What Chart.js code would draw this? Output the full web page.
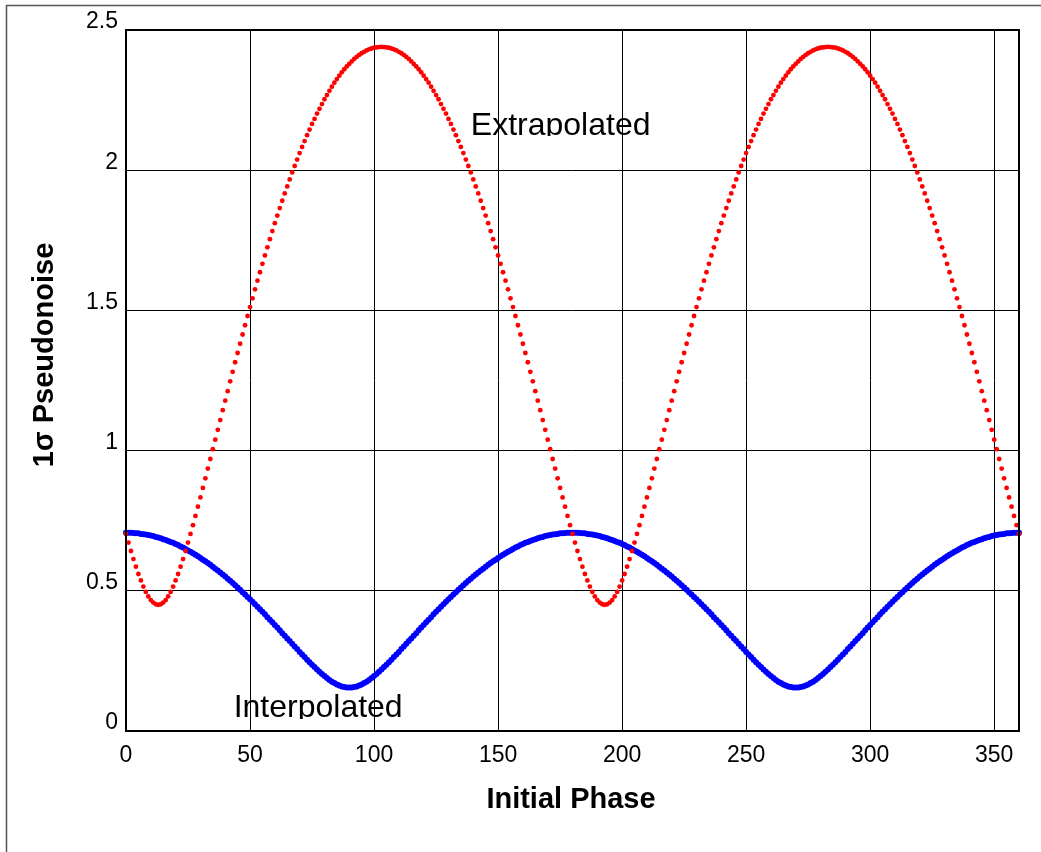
<!DOCTYPE html>
<html><head><meta charset="utf-8">
<script src="https://cdn.jsdelivr.net/npm/chart.js@4/dist/chart.umd.min.js"></script>
<style>html,body{margin:0;padding:0;background:#fff}#wrap{position:relative;width:1041px;height:852px}</style>
</head><body><div id="wrap"><canvas id="c" width="1041" height="852"></canvas></div>
<script>
// Initial phase (degrees), one sample per degree
const phase = [
0,1,2,3,4,5,6,7,8,9,10,11,12,13,14,15,16,17,18,19,20,21,22,23,24,25,26,27,28,29,
30,31,32,33,34,35,36,37,38,39,40,41,42,43,44,45,46,47,48,49,50,51,52,53,54,55,56,57,58,59,
60,61,62,63,64,65,66,67,68,69,70,71,72,73,74,75,76,77,78,79,80,81,82,83,84,85,86,87,88,89,
90,91,92,93,94,95,96,97,98,99,100,101,102,103,104,105,106,107,108,109,110,111,112,113,114,115,116,117,118,119,
120,121,122,123,124,125,126,127,128,129,130,131,132,133,134,135,136,137,138,139,140,141,142,143,144,145,146,147,148,149,
150,151,152,153,154,155,156,157,158,159,160,161,162,163,164,165,166,167,168,169,170,171,172,173,174,175,176,177,178,179,
180,181,182,183,184,185,186,187,188,189,190,191,192,193,194,195,196,197,198,199,200,201,202,203,204,205,206,207,208,209,
210,211,212,213,214,215,216,217,218,219,220,221,222,223,224,225,226,227,228,229,230,231,232,233,234,235,236,237,238,239,
240,241,242,243,244,245,246,247,248,249,250,251,252,253,254,255,256,257,258,259,260,261,262,263,264,265,266,267,268,269,
270,271,272,273,274,275,276,277,278,279,280,281,282,283,284,285,286,287,288,289,290,291,292,293,294,295,296,297,298,299,
300,301,302,303,304,305,306,307,308,309,310,311,312,313,314,315,316,317,318,319,320,321,322,323,324,325,326,327,328,329,
330,331,332,333,334,335,336,337,338,339,340,341,342,343,344,345,346,347,348,349,350,351,352,353,354,355,356,357,358,359,
360];

// Extrapolated (red dots)
const extrapolated = [
0.703,0.672,0.642,0.613,0.586,0.560,0.537,0.515,0.496,0.480,0.467,0.458,0.452,0.450,
0.452,0.458,0.467,0.480,0.496,0.515,0.537,0.560,0.586,0.613,
0.642,0.672,0.703,0.734,0.767,0.800,0.833,0.867,0.901,0.936,
0.970,1.005,1.039,1.074,1.109,1.144,1.178,1.212,1.247,1.281,
1.315,1.348,1.381,1.414,1.447,1.480,1.512,1.543,1.575,1.606,
1.636,1.666,1.696,1.725,1.754,1.783,1.811,1.838,1.865,1.891,
1.917,1.942,1.967,1.992,2.015,2.038,2.061,2.083,2.104,2.125,
2.145,2.165,2.183,2.202,2.219,2.236,2.253,2.268,2.283,2.298,
2.312,2.325,2.337,2.349,2.360,2.370,2.379,2.388,2.397,2.404,
2.411,2.417,2.422,2.427,2.431,2.434,2.437,2.438,2.439,2.440,
2.439,2.438,2.437,2.434,2.431,2.427,2.422,2.417,2.411,
2.404,2.397,2.388,2.379,2.370,2.360,2.349,2.337,2.325,2.312,
2.298,2.283,2.268,2.253,2.236,2.219,2.202,2.183,2.165,2.145,
2.125,2.104,2.083,2.061,2.038,2.015,1.992,1.967,1.942,1.917,
1.891,1.865,1.838,1.811,1.783,1.754,1.725,1.696,1.666,1.636,
1.606,1.575,1.543,1.512,1.480,1.447,1.414,1.381,1.348,1.315,
1.281,1.247,1.212,1.178,1.144,1.109,1.074,1.039,1.005,0.970,
0.936,0.901,0.867,0.833,0.800,0.767,0.734,0.703,0.672,0.642,
0.613,0.586,0.560,0.537,0.515,0.496,0.480,0.467,0.458,0.452,
0.450,
0.452,0.458,0.467,0.480,0.496,0.515,0.537,0.560,0.586,0.613,
0.642,0.672,0.703,0.734,0.767,0.800,0.833,0.867,0.901,0.936,
0.970,1.005,1.039,1.074,1.109,1.144,1.178,1.212,1.247,1.281,
1.315,1.348,1.381,1.414,1.447,1.480,1.512,1.543,1.575,1.606,
1.636,1.666,1.696,1.725,1.754,1.783,1.811,1.838,1.865,1.891,
1.917,1.942,1.967,1.992,2.015,2.038,2.061,2.083,2.104,2.125,
2.145,2.165,2.183,2.202,2.219,2.236,2.253,2.268,2.283,2.298,
2.312,2.325,2.337,2.349,2.360,2.370,2.379,2.388,2.397,2.404,
2.411,2.417,2.422,2.427,2.431,2.434,2.437,2.438,2.439,2.440,
2.439,2.438,2.437,2.434,2.431,2.427,2.422,2.417,2.411,
2.404,2.397,2.388,2.379,2.370,2.360,2.349,2.337,2.325,2.312,
2.298,2.283,2.268,2.253,2.236,2.219,2.202,2.183,2.165,2.145,
2.125,2.104,2.083,2.061,2.038,2.015,1.992,1.967,1.942,1.917,
1.891,1.865,1.838,1.811,1.783,1.754,1.725,1.696,1.666,1.636,
1.606,1.575,1.543,1.512,1.480,1.447,1.414,1.381,1.348,1.315,
1.281,1.247,1.212,1.178,1.144,1.109,1.074,1.039,1.005,0.970,
0.936,0.901,0.867,0.833,0.800,0.767,0.734,0.703];

// Interpolated (blue)
const interpolated = [
0.707,0.707,0.707,0.706,0.705,0.705,0.703,0.702,0.701,0.699,
0.697,0.695,0.692,0.690,0.687,0.684,0.681,0.678,0.674,0.671,
0.667,0.663,0.658,0.654,0.649,0.644,0.639,0.634,0.629,0.623,
0.617,0.611,0.605,0.599,0.593,0.586,0.579,0.572,0.565,0.558,
0.551,0.543,0.536,0.528,0.520,0.512,0.504,0.495,0.487,0.478,
0.470,0.461,0.452,0.443,0.434,0.425,0.416,0.406,0.397,0.388,
0.378,0.369,0.359,0.349,0.340,0.330,0.321,0.311,0.301,0.292,
0.282,0.273,0.264,0.254,0.245,0.236,0.228,0.219,0.211,0.203,
0.196,0.189,0.182,0.176,0.171,0.166,0.162,0.159,0.157,0.155,
0.155,
0.155,0.157,0.159,0.162,0.166,0.171,0.176,0.182,0.189,0.196,
0.203,0.211,0.219,0.228,0.236,0.245,0.254,0.264,0.273,0.282,
0.292,0.301,0.311,0.321,0.330,0.340,0.349,0.359,0.369,0.378,
0.388,0.397,0.406,0.416,0.425,0.434,0.443,0.452,0.461,0.470,
0.478,0.487,0.495,0.504,0.512,0.520,0.528,0.536,0.543,0.551,
0.558,0.565,0.572,0.579,0.586,0.593,0.599,0.605,0.611,0.617,
0.623,0.629,0.634,0.639,0.644,0.649,0.654,0.658,0.663,0.667,
0.671,0.674,0.678,0.681,0.684,0.687,0.690,0.692,0.695,0.697,
0.699,0.701,0.702,0.703,0.705,0.705,0.706,0.707,0.707,0.707,
0.707,0.707,0.706,0.705,0.705,0.703,0.702,0.701,0.699,
0.697,0.695,0.692,0.690,0.687,0.684,0.681,0.678,0.674,0.671,
0.667,0.663,0.658,0.654,0.649,0.644,0.639,0.634,0.629,0.623,
0.617,0.611,0.605,0.599,0.593,0.586,0.579,0.572,0.565,0.558,
0.551,0.543,0.536,0.528,0.520,0.512,0.504,0.495,0.487,0.478,
0.470,0.461,0.452,0.443,0.434,0.425,0.416,0.406,0.397,0.388,
0.378,0.369,0.359,0.349,0.340,0.330,0.321,0.311,0.301,0.292,
0.282,0.273,0.264,0.254,0.245,0.236,0.228,0.219,0.211,0.203,
0.196,0.189,0.182,0.176,0.171,0.166,0.162,0.159,0.157,0.155,
0.155,
0.155,0.157,0.159,0.162,0.166,0.171,0.176,0.182,0.189,0.196,
0.203,0.211,0.219,0.228,0.236,0.245,0.254,0.264,0.273,0.282,
0.292,0.301,0.311,0.321,0.330,0.340,0.349,0.359,0.369,0.378,
0.388,0.397,0.406,0.416,0.425,0.434,0.443,0.452,0.461,0.470,
0.478,0.487,0.495,0.504,0.512,0.520,0.528,0.536,0.543,0.551,
0.558,0.565,0.572,0.579,0.586,0.593,0.599,0.605,0.611,0.617,
0.623,0.629,0.634,0.639,0.644,0.649,0.654,0.658,0.663,0.667,
0.671,0.674,0.678,0.681,0.684,0.687,0.690,0.692,0.695,0.697,
0.699,0.701,0.702,0.703,0.705,0.705,0.706,0.707,0.707,0.707];

const xRange = [0, 360];
const xStep = 50;
const yRange = [0, 2.5];
const yStep = 0.5;
const xTitle = 'Initial Phase';
const yTitle = '1σ Pseudonoise';
const seriesNames = ['Extrapolated', 'Interpolated'];
// curve label anchors in data units: [phase, value, clipValue]
const labelAnchors = [[139.0, 2.127, 2.122], [43.4, 0.05, 0.043]];

const FONT = '"Liberation Sans", Arial, Helvetica, sans-serif';

const decor = {
  id: 'decor',
  afterDraw(chart) {
    const ctx = chart.ctx, a = chart.chartArea;
    const xs = chart.scales.x, ys = chart.scales.y;
    ctx.save();
    // outer frame
    ctx.strokeStyle = '#555';
    ctx.lineWidth = 1.5;
    ctx.beginPath();
    ctx.moveTo(6.5, 852); ctx.lineTo(6.5, 5.5); ctx.lineTo(1041, 5.5);
    ctx.stroke();
    // plot frame
    ctx.strokeStyle = '#000';
    ctx.lineWidth = 2;
    ctx.strokeRect(a.left, a.top, a.right - a.left, a.bottom - a.top);
    // axis titles
    ctx.fillStyle = '#000';
    ctx.font = 'bold 29px ' + FONT;
    ctx.textAlign = 'center';
    ctx.textBaseline = 'middle';
    ctx.fillText(xTitle, 571, 800);
    ctx.translate(45, 355);
    ctx.rotate(-Math.PI / 2);
    ctx.fillText(yTitle, 0, 0);
    ctx.restore();
    // curve labels (clipped at their box bottom)
    labelAnchors.forEach((an, i) => {
      const px = xs.getPixelForValue(an[0]);
      const py = ys.getPixelForValue(an[1]);
      const clipY = ys.getPixelForValue(an[2]);
      ctx.save();
      ctx.beginPath();
      ctx.rect(0, 0, 1041, clipY);
      ctx.clip();
      ctx.fillStyle = '#000';
      ctx.font = '32px ' + FONT;
      ctx.textAlign = 'left';
      ctx.textBaseline = 'alphabetic';
      ctx.fillText(seriesNames[i], px, py);
      ctx.restore();
    });
  }
};

new Chart(document.getElementById('c'), {
  type: 'scatter',
  data: {
    datasets: [
      {
        label: seriesNames[0],
        data: phase.map((p, i) => ({x: p, y: extrapolated[i]})),
        showLine: false,
        pointRadius: 2.4,
        pointBorderWidth: 0,
        pointBackgroundColor: '#ff0000',
        pointHoverRadius: 2.4,
        clip: 6
      },
      {
        label: seriesNames[1],
        data: phase.map((p, i) => ({x: p, y: interpolated[i]})),
        showLine: false,
        pointRadius: 3,
        pointBorderWidth: 0,
        pointBackgroundColor: '#0000ff',
        pointHoverRadius: 3,
        clip: 6
      }
    ]
  },
  options: {
    responsive: false,
    animation: false,
    events: [],
    layout: { padding: { left: 0, top: 30, right: 22, bottom: 0 } },
    plugins: { legend: { display: false }, tooltip: { enabled: false } },
    scales: {
      x: {
        type: 'linear',
        min: xRange[0], max: xRange[1],
        afterFit(s) { s.height = 121; },
        grid: { color: '#000', lineWidth: 1, drawTicks: false },
        border: { display: false },
        ticks: { stepSize: xStep, includeBounds: false, padding: 11, color: '#000', font: { family: FONT, size: 23 }, maxRotation: 0 }
      },
      y: {
        type: 'linear',
        min: yRange[0], max: yRange[1],
        afterFit(s) { s.width = 126; },
        grid: { color: '#000', lineWidth: 1, drawTicks: false },
        border: { display: false },
        ticks: { stepSize: yStep, padding: 8, labelOffset: -8, color: '#000', font: { family: FONT, size: 23 },
                 callback: (v) => String(v) }
      }
    }
  },
  plugins: [decor]
});
</script></body></html>
